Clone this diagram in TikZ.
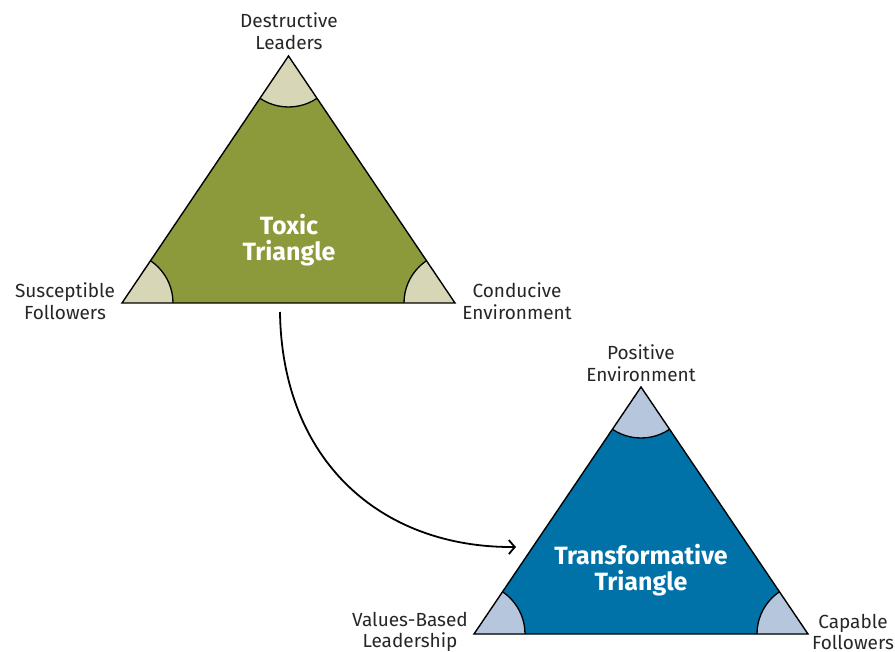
\documentclass[tikz,border=0pt]{standalone}
\usepackage{fontspec}
\setmainfont{Fira Sans}
\usetikzlibrary{arrows.meta}
\definecolor{olive}{HTML}{8C9A3C}
\definecolor{olivelight}{HTML}{D7D7B7}
\definecolor{deepblue}{HTML}{0072A8}
\definecolor{bluelight}{HTML}{B6C6DC}
\tikzset{
  corner/.style={font=\fontsize{19}{21.5}\selectfont, align=center, text=black!85},
  title/.style={font=\fontsize{25}{26.5}\selectfont\bfseries, align=center, text=white},
  edge/.style={line width=1.4pt, line join=miter},
  flow/.style={line width=1.8pt, -{Straight Barb[length=6pt,width=14pt,line width=1.8pt]}},
}
\newcommand{\triad}[6]{%
  % #1 apex, #2 left, #3 right, #4 fill, #5 corner fill, #6 radius
  \begin{scope}
    \clip (#1) -- (#2) -- (#3) -- cycle;
    \fill[#4] (#1) -- (#2) -- (#3) -- cycle;
    \fill[#5] (#1) circle (#6) (#2) circle (#6) (#3) circle (#6);
    \draw[line width=1.3pt] (#1) circle (#6) (#2) circle (#6) (#3) circle (#6);
  \end{scope}
  \draw[edge] (#1) -- (#2) -- (#3) -- cycle;
}
\begin{document}
\begin{tikzpicture}[x=1pt,y=-1pt]
  \useasboundingbox (0,0) rectangle (895,652);
  % toxic triangle corners
  \coordinate (tA) at (288.5,56);
  \coordinate (tL) at (122,303);
  \coordinate (tR) at (455,303);
  % transformative triangle corners
  \coordinate (fA) at (641,387);
  \coordinate (fL) at (474,634);
  \coordinate (fR) at (808,634);

  \triad{tA}{tL}{tR}{olive}{olivelight}{51pt}
  \triad{fA}{fL}{fR}{deepblue}{bluelight}{51pt}

  \node[title] (toxic) at (289,240) {Toxic\\Triangle};
  \node[title] (trans) at (641,570) {Transformative\\Triangle};

  \node[corner] (lead) at (289,31) {Destructive\\Leaders};
  \node[corner] (susc) at (65,301) {Susceptible\\Followers};
  \node[corner] (cond) at (517,301) {Conducive\\Environment};
  \node[corner] (pos)  at (641,363) {Positive\\Environment};
  \node[corner] (vbl)  at (410,632) {Values-Based\\Leadership};
  \node[corner] (cap)  at (853,632) {Capable\\Followers};

  % transition arrow
  \coordinate (from) at (280,312);
  \coordinate (to) at (516,547);
  \draw[flow] (from) .. controls (282,460) and (380,548) .. (to);
\end{tikzpicture}
\end{document}
